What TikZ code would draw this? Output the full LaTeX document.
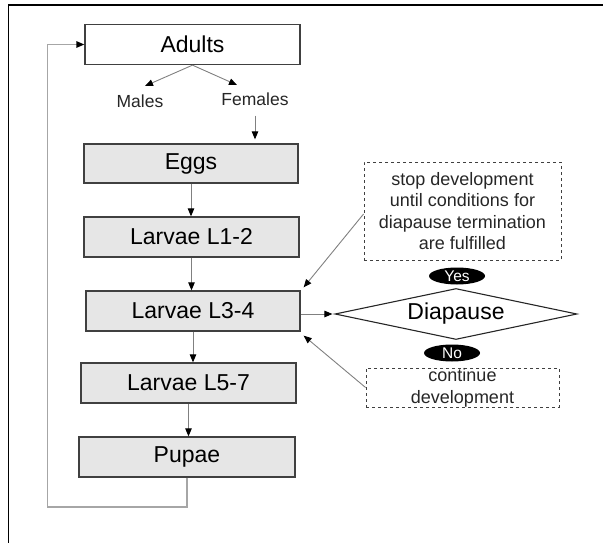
\documentclass[tikz,border=0pt]{standalone}
\usepackage{fontspec}
\setmainfont{Liberation Sans}
\usetikzlibrary{arrows.meta,shapes.geometric,calc}
\definecolor{boxfill}{HTML}{E6E6E6}
\definecolor{boxline}{HTML}{404040}
\definecolor{arrline}{HTML}{808080}
\definecolor{fbline}{HTML}{A6A6A6}
\begin{document}
\begin{tikzpicture}[x=1pt,y=-1pt,
  stage/.style={draw=boxline, line width=1.3pt, fill=boxfill, minimum width=215pt, minimum height=40pt, inner sep=0pt, font=\fontsize{23}{27}\selectfont},
  small/.style={inner sep=0pt, font=\fontsize{17.5}{21}\selectfont, text=black!85},
  note/.style={draw=boxline, dashed, line width=0.9pt, align=center, inner sep=0pt, font=\fontsize{18}{21.5}\selectfont, text=black!85},
  tag/.style={ellipse, fill=black, text=white, minimum width=56pt, minimum height=17pt, inner sep=0pt, font=\fontsize{15.5}{17}\selectfont},
  arr/.style={draw=arrline, line width=0.9pt, -{Triangle[length=8pt,width=6.5pt,color=black]}},
  back/.style={draw=fbline, line width=1.3pt, -{Triangle[length=8pt,width=6.5pt,color=black]}}
]
\useasboundingbox (0,0) rectangle (603,543);
% outer frame
\draw[line width=1.3pt] (8.5,543) -- (8.5,5) -- (603,5);

% stages
\node[stage, fill=white] (adults) at (192.5,44.5) {Adults};
\node[small] (males) at (140,101) {Males};
\node[small] (females) at (255,99) {Females};
\node[stage, minimum width=214pt, minimum height=39pt] (eggs) at (191,163.5) {Eggs};
\node[stage] (l12) at (191.5,237) {Larvae L1-2};
\node[stage, minimum width=214pt] (l34) at (193,311) {Larvae L3-4};
\node[stage] (l57) at (188.5,383) {Larvae L5-7};
\node[stage, minimum width=216pt] (pupae) at (187,457) {Pupae};

% diapause
\node[diamond, draw=black!85, line width=1.1pt, aspect=4.75, minimum width=242pt, minimum height=51pt, inner sep=0pt, font=\fontsize{23}{27}\selectfont] (dia) at (456,314) {Diapause};
\node[tag] (yes) at (457,276) {Yes};
\node[tag] (no) at (452,353) {No};
\node[note, minimum width=197pt, minimum height=98pt] (stop) at (462.5,211) {stop development\\until conditions for\\diapause termination\\are fulfilled};
\node[note, minimum width=193pt, minimum height=39pt, font=\fontsize{18}{22}\selectfont] (cont) at (462.5,387.5) {continue\\development};

% connectors
\coordinate (mtip) at (145,86);
\coordinate (ftip) at (237,85);
\draw[arr] (adults.south) -- (mtip);
\draw[arr] (adults.south) -- (ftip);
\draw[arr, shorten <=10pt, shorten >=4pt] (females.south) -- (females.south |- eggs.north);
\draw[arr] (eggs.south) -- (eggs.south |- l12.north);
\draw[arr] (l12.south) -- (l12.south |- l34.north);
\draw[arr] (l34.south) -- (l34.south |- l57.north);
\draw[arr] (l57.south) -- (l57.south |- pupae.north);
\coordinate (fb) at (47.5,507);
\draw[back] (pupae.south) |- (fb) |- (adults.west);
\draw[arr, shorten >=2pt] (l34.east |- dia.west) -- (dia.west);
\draw[arr] ($(stop.west)+(0,3)$) -- ($(l34.north east)+(3,-3)$);
\draw[arr] (cont.west) -- ($(l34.south east)+(3,4)$);
\end{tikzpicture}
\end{document}
